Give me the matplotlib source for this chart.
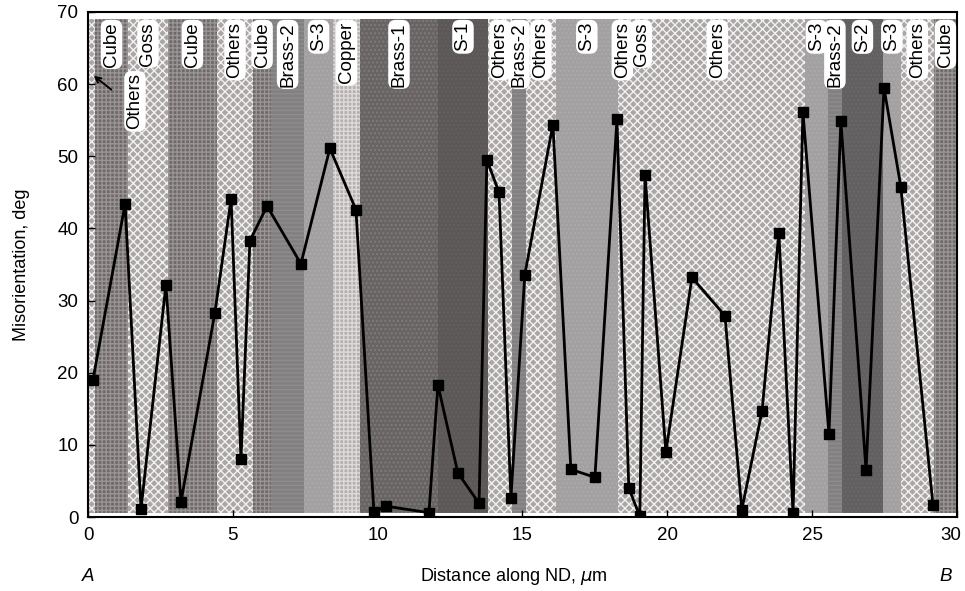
import matplotlib
matplotlib.use("Agg")
import matplotlib.pyplot as plt
import matplotlib.transforms as mtransforms

plt.rcParams['font.family'] = ['Liberation Sans', 'DejaVu Sans']
plt.rcParams['hatch.linewidth'] = 1.0

# Data
distance = [0.17, 1.28, 1.83, 2.69, 3.21, 4.38, 4.94, 5.28, 5.59, 6.18, 7.35, 8.35, 9.25,
            9.87, 10.29, 11.77, 12.08, 12.77, 13.50, 13.77, 14.19, 14.60, 15.08, 16.05,
            16.67, 17.50, 18.26, 18.67, 19.05, 19.23, 19.95, 20.85, 21.99, 22.57, 23.27,
            23.85, 24.34, 24.68, 25.58, 25.99, 26.86, 27.48, 28.06, 29.17]
misorientation = [19.0, 43.4, 1.1, 32.2, 2.1, 28.3, 44.1, 8.0, 38.3, 43.1, 35.1, 51.1, 42.6,
                  0.7, 1.5, 0.6, 18.3, 6.1, 1.9, 49.5, 45.0, 2.6, 33.6, 54.4,
                  6.6, 5.5, 55.1, 4.0, 0.1, 47.4, 9.0, 33.2, 27.9, 1.0, 14.7,
                  39.4, 0.5, 56.2, 11.5, 54.9, 6.5, 59.5, 45.8, 1.7]

band_edges = [0, 0.24, 1.38, 2.76, 4.45, 5.70, 6.32, 7.46, 8.46, 9.39, 12.08, 13.81,
              14.64, 15.12, 16.15, 18.29, 18.60, 19.60, 24.75, 25.54, 26.03, 27.44,
              28.06, 29.20, 30]
band_labels = ['Others', 'Cube', 'Goss', 'Cube', 'Others', 'Cube', 'Brass-2', 'S-3',
               'Copper', 'Brass-1', 'S-1', 'Others', 'Brass-2', 'Others', 'S-3', 'Others',
               'Goss', 'Others', 'S-3', 'Brass-2', 'S-2', 'S-3', 'Others', 'Cube']
x_ticks = [0, 5, 10, 15, 20, 25, 30]
y_ticks = [0, 10, 20, 30, 40, 50, 60, 70]

# small horizontal nudges of the band labels (layout only)
label_shift = {17: -0.45}

styles = {
    'Others':  dict(fc='#aaa6a6', ec='#f2f0f0', hatch='xxxx'),
    'Goss':    dict(fc='#aaa6a6', ec='#f2f0f0', hatch='xxxx'),
    'Cube':    dict(fc='#6e6a6a', ec='#9a9494', hatch='++++'),
    'Brass-2': dict(fc='#828080', ec='#8e8c8c', hatch='----'),
    'S-3':     dict(fc='#a2a0a0', ec='#acaaaa', hatch='....'),
    'Copper':  dict(fc='#b4b0b0', ec='#dedada', hatch='++++'),
    'Brass-1': dict(fc='#686464', ec='#807a7a', hatch='....'),
    'S-1':     dict(fc='#5c5858', ec='#646060', hatch='....'),
    'S-2':     dict(fc='#626060', ec='#6a6868', hatch='....'),
}

fig = plt.figure(figsize=(9.65, 5.91), dpi=100)
ax = fig.add_axes([0.0912, 0.1252, 0.9005, 0.8545])

for i, lab in enumerate(band_labels):
    x0, x1 = band_edges[i], band_edges[i + 1]
    st = styles[lab]
    ax.fill_between([x0, x1], 0.6, 69.0, facecolor=st['fc'], edgecolor=st['ec'],
                    hatch=st['hatch'], linewidth=0, zorder=1)

box = dict(boxstyle='round,pad=0.12,rounding_size=0.4', fc='white', ec='none')
lfs = 13.5
for i, lab in enumerate(band_labels):
    if i == 0:
        continue
    xc = (band_edges[i] + band_edges[i + 1]) / 2 + label_shift.get(i, 0)
    ax.text(xc, 68.6, lab, rotation=90, ha='center', va='top', fontsize=lfs,
            bbox=box, zorder=4)

# first narrow "Others" band, labelled with an arrow
ax.text(1.62, 61.5, band_labels[0], rotation=90, ha='center', va='top', fontsize=lfs,
        bbox=box, zorder=4)
ax.annotate('', xy=(0.12, 61.4), xytext=(0.88, 59.0),
            arrowprops=dict(arrowstyle='->', color='black', lw=1.4), zorder=4)

ax.plot(distance, misorientation, color='black', lw=2.0, marker='s', ms=7.5,
        markerfacecolor='black', zorder=3)

ax.set_xlim(0, 30)
ax.set_ylim(0, 70)
ax.set_xticks(x_ticks)
ax.set_yticks(y_ticks)
ax.tick_params(direction='in', length=5, width=1, labelsize=13.5, pad=7)
for s in ax.spines.values():
    s.set_linewidth(1.5)
ax.set_ylabel('Misorientation, deg', fontsize=13, labelpad=20)

# keep the last x tick label inside the figure
fig.canvas.draw()
last = ax.get_xticklabels()[-1]
last.set_transform(last.get_transform() +
                   mtransforms.ScaledTranslation(-6 / 100, 0, fig.dpi_scale_trans))

fig.text(0.532, 0.024, 'Distance along ND, $\\mu$m', ha='center', va='center', fontsize=13)
fig.text(0.091, 0.024, 'A', ha='center', va='center', fontsize=13.5, style='italic')
fig.text(0.98, 0.024, 'B', ha='center', va='center', fontsize=13.5, style='italic')

fig.savefig('out.png', dpi=100)
